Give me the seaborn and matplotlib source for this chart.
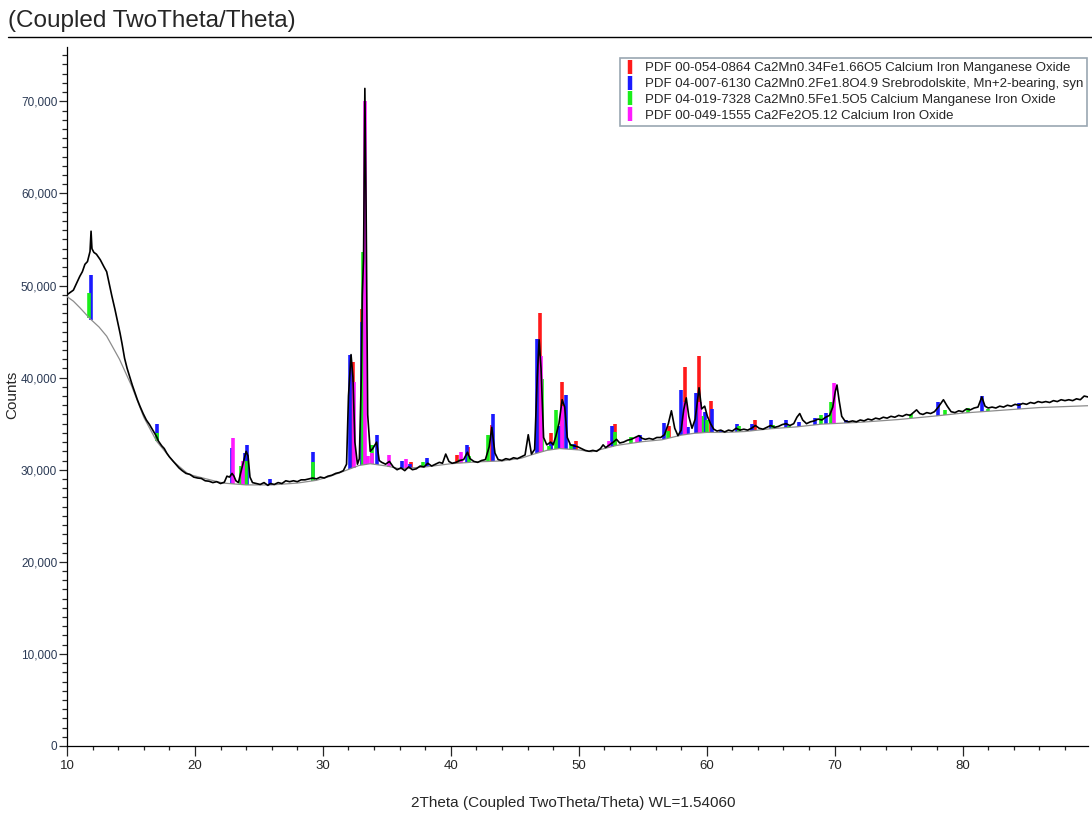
import numpy as np
import pandas as pd
import matplotlib
matplotlib.use("Agg")
import matplotlib.pyplot as plt
from matplotlib.lines import Line2D
from matplotlib.ticker import FuncFormatter, MultipleLocator
import seaborn as sns

# ---------------- data ----------------
obs_x = [10.0, 10.3, 10.5, 10.8, 11.0, 11.2, 11.4, 11.6, 11.8, 11.88, 11.95, 12.1, 12.3, 12.6, 12.9, 13.1, 13.3, 13.5,
         13.75, 14.0, 14.15, 14.3, 14.5, 14.7, 14.9, 15.1, 15.3, 15.5, 15.7, 15.95, 16.2, 16.45, 16.75, 17.0, 17.15,
         17.4, 17.6, 17.8, 18.0, 18.25, 18.5, 18.75, 19.0, 19.3, 19.6, 19.9, 20.2, 20.5, 20.8, 21.1, 21.4, 21.7, 22.0,
         22.3, 22.5, 22.7, 22.9, 23.05, 23.2, 23.4, 23.6, 23.8, 24.0, 24.15, 24.3, 24.5, 24.8, 25.1, 25.4, 25.7, 25.9,
         26.2, 26.5, 26.8, 27.1, 27.4, 27.7, 28.0, 28.3, 28.6, 28.9, 29.2, 29.5, 29.8, 30.1, 30.4, 30.7, 31.0, 31.3,
         31.6, 31.85, 32.0, 32.2, 32.35, 32.5, 32.7, 32.85, 33.0, 33.08, 33.18, 33.28, 33.38, 33.5, 33.7, 33.9, 34.2,
         34.4, 34.6, 34.9, 35.2, 35.5, 35.8, 36.1, 36.4, 36.7, 37.0, 37.3, 37.6, 37.9, 38.2, 38.5, 38.8, 39.1, 39.35,
         39.6, 39.85, 40.1, 40.4, 40.7, 41.0, 41.3, 41.5, 41.8, 42.1, 42.4, 42.7, 43.0, 43.2, 43.45, 43.7, 44.0, 44.3,
         44.6, 44.9, 45.2, 45.5, 45.8, 46.05, 46.3, 46.55, 46.75, 46.9, 47.05, 47.25, 47.5, 47.8, 48.0, 48.2, 48.45,
         48.7, 48.9, 49.1, 49.35, 49.6, 49.9, 50.2, 50.5, 50.8, 51.1, 51.4, 51.7, 51.9, 52.1, 52.4, 52.7, 52.95, 53.2,
         53.5, 53.8, 54.1, 54.4, 54.7, 54.95, 55.2, 55.5, 55.8, 56.1, 56.4, 56.7, 57.0, 57.24, 57.5, 57.75, 58.0, 58.2,
         58.4, 58.6, 58.85, 59.1, 59.4, 59.6, 59.84, 60.05, 60.3, 60.55, 60.8, 61.1, 61.4, 61.7, 62.0, 62.3, 62.6,
         62.9, 63.2, 63.5, 63.8, 64.1, 64.4, 64.7, 65.0, 65.3, 65.6, 65.9, 66.2, 66.5, 66.8, 67.05, 67.27, 67.5, 67.8,
         68.1, 68.4, 68.7, 69.0, 69.3, 69.6, 69.85, 70.05, 70.18, 70.35, 70.55, 70.8, 71.1, 71.4, 71.7, 72.0, 72.3,
         72.6, 72.9, 73.2, 73.5, 73.8, 74.1, 74.4, 74.7, 75.0, 75.3, 75.6, 75.9, 76.15, 76.4, 76.65, 76.9, 77.2, 77.5,
         77.8, 78.1, 78.5, 78.8, 79.1, 79.4, 79.7, 80.0, 80.3, 80.6, 80.9, 81.2, 81.5, 81.75, 82.0, 82.3, 82.6, 82.9,
         83.2, 83.5, 83.8, 84.1, 84.4, 84.7, 85.0, 85.3, 85.6, 85.9, 86.2, 86.5, 86.8, 87.1, 87.4, 87.7, 88.0, 88.3,
         88.6, 88.9, 89.2, 89.5, 89.8]
obs_y = [49000, 49300, 49500, 50400, 51000, 51500, 52300, 52600, 53700, 55900, 54000, 53600, 53400, 52800, 52000, 51500,
         50200, 48900, 47400, 45800, 44800, 43700, 42100, 41000, 40100, 39200, 38400, 37600, 36900, 36100, 35400, 34900,
         34200, 33600, 33100, 32600, 32300, 31800, 31400, 31000, 30600, 30200, 29900, 29600, 29500, 29200, 29100, 29050,
         28800, 28750, 28600, 28700, 28500, 28650, 29300, 29200, 29600, 29300, 28800, 28600, 29800, 30900, 32000, 31500,
         29200, 28600, 28500, 28400, 28600, 28300, 28500, 28400, 28600, 28500, 28800, 28700, 28800, 28700, 28900, 28900,
         29000, 29100, 29000, 29200, 29100, 29300, 29400, 29600, 29700, 29900, 30600, 38000, 42500, 40000, 33000, 30600,
         31200, 40000, 49000, 53000, 71400, 58000, 36000, 32000, 32300, 33000, 31000, 30800, 30600, 30900, 30300, 30000,
         30200, 29900, 30300, 30000, 30100, 30400, 30300, 30700, 30400, 30600, 30800, 30700, 31700, 30900, 30700, 30800,
         31000, 31100, 31900, 31200, 30900, 30800, 31000, 31100, 32500, 34600, 31800, 31100, 31000, 31200, 31100, 31300,
         31200, 31400, 31600, 33800, 31700, 32200, 40000, 44100, 41000, 33500, 32700, 33000, 32700, 33600, 35000, 37600,
         36800, 33500, 32700, 32600, 32500, 32300, 32100, 32000, 32100, 32000, 32300, 32700, 32400, 32700, 33000, 33300,
         32900, 33000, 33200, 33300, 33500, 33700, 33400, 33300, 33400, 33300, 33500, 33500, 33800, 35000, 36400, 34500,
         33700, 34300, 36500, 37800, 35800, 34500, 35500, 38900, 36600, 36900, 35800, 35000, 34400, 34200, 34300, 34100,
         34300, 34200, 34500, 34300, 34400, 34300, 34500, 34800, 34500, 34400, 34600, 34800, 34600, 34700, 34900, 35000,
         34800, 35000, 35700, 36100, 35400, 35000, 35200, 35300, 35500, 35400, 35700, 35900, 36800, 38500, 39200, 37500,
         35800, 35300, 35200, 35300, 35200, 35400, 35300, 35500, 35400, 35600, 35500, 35700, 35600, 35800, 35700, 35900,
         35800, 36000, 35900, 36200, 36500, 36100, 36000, 36200, 36100, 36300, 36800, 37600, 36900, 36300, 36200, 36400,
         36300, 36600, 36500, 36700, 36800, 37900, 36900, 36700, 36800, 36700, 36900, 36800, 37000, 36900, 37100, 37000,
         37200, 37100, 37300, 37200, 37400, 37300, 37400, 37300, 37500, 37400, 37600, 37500, 37600, 37500, 37700, 37600,
         38000, 37900]

bg_x = [10, 10.5, 11, 11.8, 12.5, 13.1, 14.1, 15.05, 16, 17, 18.3, 19.5, 20.9, 22.2, 24, 26, 28, 29.5, 30.5, 31.85,
        32.8, 33.7, 35, 36, 38, 40, 42, 44, 45.5, 46.5, 47.5, 48.5, 50, 51, 53, 55, 56.5, 58, 59, 60, 61.5, 63, 65,
        67, 69, 70.5, 72, 75, 78, 80, 83, 86, 89.8]
bg_y = [48800, 48300, 47600, 46400, 45500, 44500, 42000, 39100, 35700, 33100, 30900, 29500, 29000, 28550, 28350,
        28350, 28550, 28850, 29250, 29950, 30450, 30650, 30400, 30100, 30300, 30650, 30850, 30950, 31250, 31700, 32100,
        32300, 32150, 31950, 32650, 33050, 33250, 33750, 33950, 34050, 34050, 34150, 34450, 34650, 34950, 35050, 35150,
        35450, 35850, 36150, 36450, 36750, 36950]

red_pos = [17.0, 32.37, 33.05, 36.9, 40.5, 41.35, 43.2, 47.0, 47.85, 48.7, 49.77, 52.87, 57.05, 58.28, 59.4, 60.3,
           63.8]
red_top = [33500, 41700, 47400, 30800, 31600, 32500, 34900, 47000, 34000, 39500, 33100, 35000, 34800, 41100, 42300,
           37500, 35400]

blue_pos = [11.9, 17.0, 22.9, 23.95, 24.04, 25.86, 29.2, 32.1, 33.02, 33.45, 34.2, 36.2, 36.8, 38.1, 41.3, 43.26,
            46.74, 47.8, 48.45, 48.98, 49.6, 52.6, 54.8, 56.64, 58.02, 58.5, 59.2, 59.84, 60.45, 61.15, 62.4, 63.5,
            65.05, 66.2, 67.2, 68.46, 69.35, 70.9, 78.1, 81.5, 84.4]
blue_top = [51100, 35000, 32400, 31800, 32700, 29000, 31900, 42500, 46000, 31500, 33800, 30900, 30600, 31300, 32700,
            36000, 44200, 33000, 34700, 38100, 32800, 34800, 33800, 35100, 38700, 34600, 38300, 36300, 36600, 34300,
            35000, 35000, 35400, 35400, 35200, 35600, 36200, 35400, 37300, 38000, 37200]

green_pos = [11.75, 17.0, 23.57, 24.0, 29.2, 33.15, 33.8, 37.8, 40.7, 41.4, 42.9, 47.13, 47.7, 48.25, 49.4, 52.8,
             54.1, 57.0, 59.63, 60.0, 62.5, 65.2, 66.4, 68.9, 69.74, 76.0, 78.6, 80.4, 82.0]
green_top = [49200, 34000, 30400, 30900, 30800, 53600, 32700, 30800, 31200, 31500, 33800, 39900, 32600, 36500, 32800,
             34100, 33500, 34200, 35800, 35400, 34700, 34900, 34800, 35900, 37400, 36100, 36500, 36700, 36600]

pink_pos = [23.0, 23.77, 32.4, 33.28, 33.5, 33.8, 35.18, 36.5, 40.8, 47.05, 48.7, 52.34, 54.55, 58.3, 59.45, 69.97]
pink_top = [33400, 30900, 39500, 70000, 31500, 31800, 31600, 31200, 31900, 42300, 36900, 33100, 33600, 37300, 37300,
            39400]

phase_labels = [
    "PDF 00-054-0864 Ca2Mn0.34Fe1.66O5 Calcium Iron Manganese Oxide",
    "PDF 04-007-6130 Ca2Mn0.2Fe1.8O4.9 Srebrodolskite, Mn+2-bearing, syn",
    "PDF 04-019-7328 Ca2Mn0.5Fe1.5O5 Calcium Manganese Iron Oxide",
    "PDF 00-049-1555 Ca2Fe2O5.12 Calcium Iron Oxide",
]
phase_colors = ["#ff1a1a", "#1a1aff", "#1aee1a", "#ff1aff"]

x_ticks = [10, 20, 30, 40, 50, 60, 70, 80]
y_ticks = [0, 10000, 20000, 30000, 40000, 50000, 60000, 70000]

# ---------------- figure ----------------
sns.set_style("ticks")
plt.rcParams["font.family"] = ["Liberation Sans", "DejaVu Sans"]

fig = plt.figure(figsize=(10.92, 8.17), dpi=100)
ax = fig.add_axes([67 / 1092, 1 - 746 / 817, (1088 - 67) / 1092, (746 - 47) / 817])

# reference sticks, from background up
for pos, top, col in [(red_pos, red_top, phase_colors[0]), (blue_pos, blue_top, phase_colors[1]),
                      (green_pos, green_top, phase_colors[2]), (pink_pos, pink_top, phase_colors[3])]:
    bottoms = np.interp(pos, bg_x, bg_y)
    ax.vlines(pos, bottoms, top, colors=col, linewidth=2.6, zorder=2)

bg_df = pd.DataFrame({"x": bg_x, "y": bg_y})
obs_df = pd.DataFrame({"x": obs_x, "y": obs_y})
sns.lineplot(data=bg_df, x="x", y="y", ax=ax, color="#8c8c8c", linewidth=0.9, sort=False, estimator=None, zorder=3)
sns.lineplot(data=obs_df, x="x", y="y", ax=ax, color="black", linewidth=1.2, sort=False, estimator=None, zorder=4)

ax.set_xlim(10, 89.8)
ax.set_ylim(0, 75900)
ax.set_xticks(x_ticks)
ax.set_yticks(y_ticks)
ax.xaxis.set_minor_locator(MultipleLocator(2))
ax.yaxis.set_minor_locator(MultipleLocator(1000))
ax.yaxis.set_major_formatter(FuncFormatter(lambda v, p: f"{int(v):,}"))

for s in ["top", "right"]:
    ax.spines[s].set_visible(False)
for s in ["left", "bottom"]:
    ax.spines[s].set_linewidth(0.9)
    ax.spines[s].set_color("black")

ax.tick_params(axis="y", which="major", length=6, width=0.9, labelsize=8.5, labelcolor="#2b3a55", pad=1)
ax.tick_params(axis="y", which="minor", length=3.5, width=0.9)
ax.tick_params(axis="x", which="major", length=7, width=0.9, pad=3, labelsize=9.5)
ax.tick_params(axis="x", which="minor", length=3, width=0.9)

ax.set_xlabel("")
ax.set_ylabel("")
fig.text(573 / 1092, 1 - 803 / 817, "2Theta (Coupled TwoTheta/Theta) WL=1.54060", ha="center", va="center",
         fontsize=11)
fig.text(12 / 1092, 1 - 395 / 817, "Counts", ha="center", va="center", rotation=90, fontsize=11)

# title and rule
fig.text(8 / 1092, 1 - 21 / 817, "(Coupled TwoTheta/Theta)", ha="left", va="center", fontsize=17.5)
fig.add_artist(Line2D([8 / 1092, 1.0], [1 - 37 / 817, 1 - 37 / 817], color="black", linewidth=1.0))

# legend
handles = [Line2D([], [], color=c, marker="|", linestyle="None", markersize=10, markeredgewidth=3.2)
           for c in phase_colors]
leg = ax.legend(handles, phase_labels, loc="upper right", bbox_to_anchor=(1087 / 1092, 1 - 58 / 817),
                bbox_transform=fig.transFigure, fontsize=9.5, frameon=True, fancybox=False, framealpha=1,
                edgecolor="#9aa7b2", handlelength=1.0, handletextpad=0.6, labelspacing=0.28, borderpad=0.3,
                borderaxespad=0)
leg.get_frame().set_linewidth(1.2)

fig.savefig("out.png", dpi=100)
